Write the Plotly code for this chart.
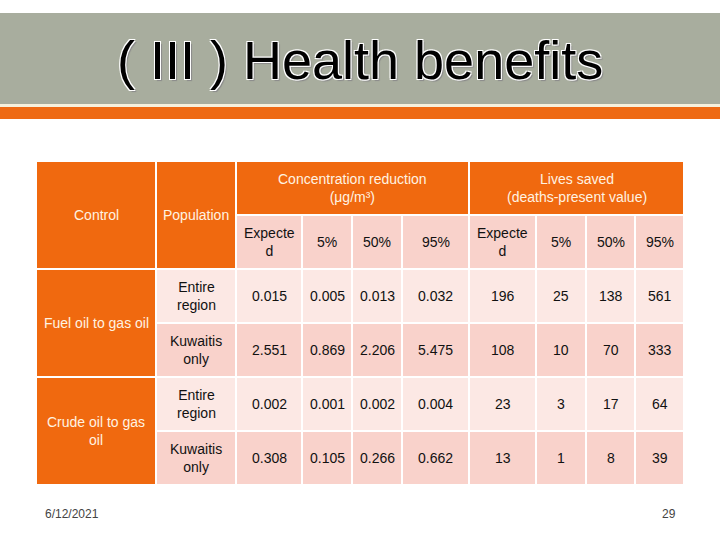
import plotly.graph_objects as go

# ---- table data ----
controls = ["Fuel oil to gas oil", "Crude oil to gas<br>oil"]
populations = ["Entire<br>region", "Kuwaitis<br>only", "Entire<br>region", "Kuwaitis<br>only"]
group_headers = ["Concentration reduction<br>(μg/m³)", "Lives saved<br>(deaths-present value)"]
sub_headers = ["Expecte<br>d", "5%", "50%", "95%"]

conc_expected = [0.015, 2.551, 0.002, 0.308]
conc_p5 = [0.005, 0.869, 0.001, 0.105]
conc_p50 = [0.013, 2.206, 0.002, 0.266]
conc_p95 = [0.032, 5.475, 0.004, 0.662]

lives_expected = [196, 108, 23, 13]
lives_p5 = [25, 10, 3, 1]
lives_p50 = [138, 70, 17, 8]
lives_p95 = [561, 333, 64, 39]

# ---- layout of the grid (pixel boundaries on a 720x540 canvas) ----
col_edges = [36, 156, 236, 302, 352, 402, 469, 536, 586, 635, 684]
row_edges = [161, 215, 269, 323, 377, 431, 485]

ORANGE = "#F0690F"
PINK_LIGHT = "#FCE8E4"
PINK_DARK = "#F9D2CB"
HEAD_TXT = "#FFF3E2"
BODY_TXT = "#111111"
FONT = "Liberation Sans, Arial, sans-serif"

fig = go.Figure()
shapes = []
annotations = []


def cell(c0, c1, r0, r1, fill, text, color, size=14):
    x0, x1 = col_edges[c0] + 1, col_edges[c1] - 1
    y0, y1 = row_edges[r0] + 1, row_edges[r1] - 1
    shapes.append(dict(type="rect", xref="x", yref="y", x0=x0, x1=x1, y0=y0, y1=y1,
                       fillcolor=fill, line=dict(width=0), layer="below"))
    if text:
        annotations.append(dict(x=(x0 + x1) / 2, y=(y0 + y1) / 2, xref="x", yref="y",
                                text=text, showarrow=False,
                                font=dict(family=FONT, size=size, color=color),
                                xanchor="center", yanchor="middle"))


# header
cell(0, 1, 0, 2, ORANGE, "Control", HEAD_TXT)
cell(1, 2, 0, 2, ORANGE, "Population", HEAD_TXT)
cell(2, 6, 0, 1, ORANGE, group_headers[0], HEAD_TXT)
cell(6, 10, 0, 1, ORANGE, group_headers[1], HEAD_TXT)
for i, h in enumerate(sub_headers):
    cell(2 + i, 3 + i, 1, 2, PINK_DARK, h, BODY_TXT)
    cell(6 + i, 7 + i, 1, 2, PINK_DARK, h, BODY_TXT)

# body
for k, ctl in enumerate(controls):
    cell(0, 1, 2 + 2 * k, 4 + 2 * k, ORANGE, ctl, HEAD_TXT)

columns = [
    [f"{v:.3f}" for v in conc_expected],
    [f"{v:.3f}" for v in conc_p5],
    [f"{v:.3f}" for v in conc_p50],
    [f"{v:.3f}" for v in conc_p95],
    [str(v) for v in lives_expected],
    [str(v) for v in lives_p5],
    [str(v) for v in lives_p50],
    [str(v) for v in lives_p95],
]
for r in range(4):
    fill = PINK_LIGHT if r % 2 == 0 else PINK_DARK
    cell(1, 2, 2 + r, 3 + r, fill, populations[r], BODY_TXT)
    for c, vals in enumerate(columns):
        cell(2 + c, 3 + c, 2 + r, 3 + r, fill, vals[r], BODY_TXT)

# slide banner
shapes.append(dict(type="rect", xref="x", yref="y", x0=0, x1=720, y0=13, y1=104,
                   fillcolor="#A8AD9E", line=dict(width=0), layer="below"))
shapes.append(dict(type="rect", xref="x", yref="y", x0=0, x1=720, y0=104, y1=107,
                   fillcolor="#F6F1DE", line=dict(width=0), layer="below"))
shapes.append(dict(type="rect", xref="x", yref="y", x0=0, x1=720, y0=107, y1=119,
                   fillcolor="#EE6A14", line=dict(width=0), layer="below"))

annotations.append(dict(x=360, y=60, xref="x", yref="y", text="( III ) Health benefits",
                        showarrow=False, xanchor="center", yanchor="middle",
                        font=dict(family=FONT, size=54, color="#000000",
                                  shadow="-1px -1px 0 #fff, 1px -1px 0 #fff, -1px 1px 0 #fff, "
                                         "1px 1px 0 #fff, 2px 2px 1px #8a8a8a")))

# footer
annotations.append(dict(x=43, y=514, xref="x", yref="y", text="6/12/2021", showarrow=False,
                        xanchor="left", yanchor="middle",
                        font=dict(family=FONT, size=12, color="#444444")))
annotations.append(dict(x=678, y=514, xref="x", yref="y", text="29", showarrow=False,
                        xanchor="right", yanchor="middle",
                        font=dict(family=FONT, size=12, color="#444444")))

fig.update_layout(
    width=720, height=540,
    margin=dict(l=0, r=0, t=0, b=0),
    paper_bgcolor="white", plot_bgcolor="white",
    xaxis=dict(range=[0, 720], visible=False, fixedrange=True),
    yaxis=dict(range=[540, 0], visible=False, fixedrange=True),
    shapes=shapes, annotations=annotations,
    showlegend=False,
)

fig.write_html("out.html",
               config=dict(displayModeBar=False),
               post_script="document.body.style.margin='0px';"
                           "document.body.style.overflow='hidden';")
